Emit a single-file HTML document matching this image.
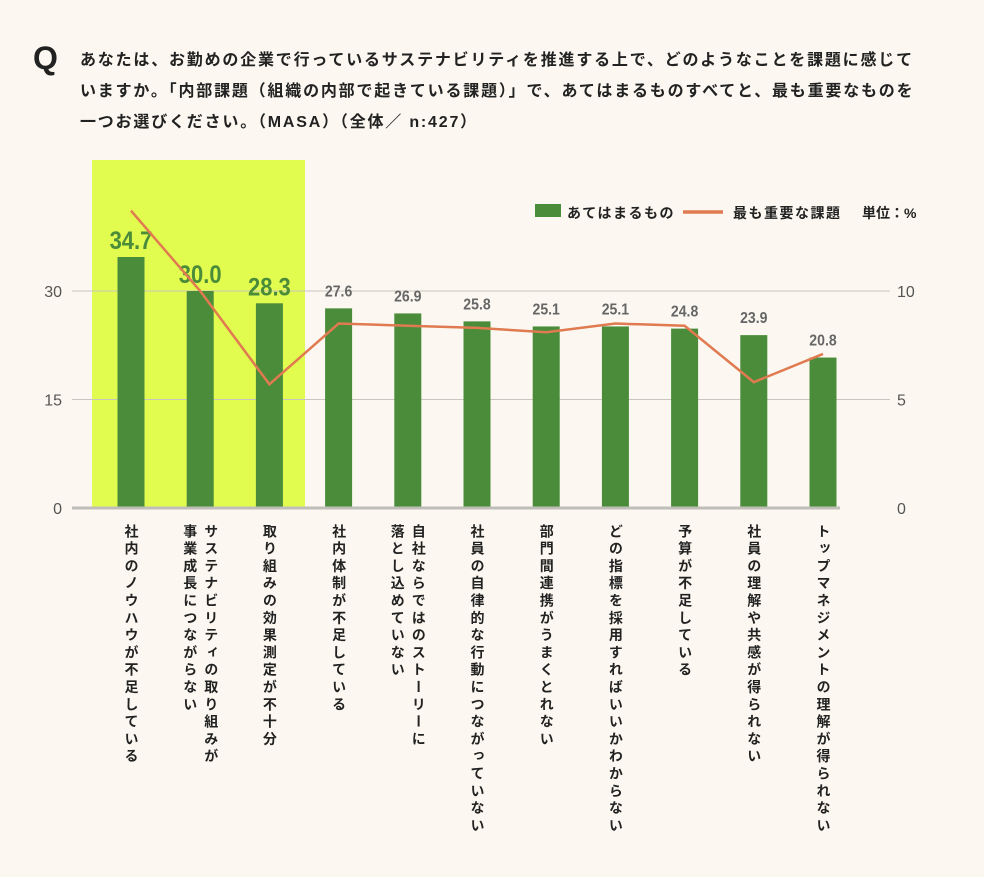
<!DOCTYPE html>
<html><head><meta charset="utf-8"><style>
body{margin:0;background:#fcf8f1;width:984px;height:877px;overflow:hidden;font-family:"Liberation Sans","Noto Sans CJK JP",sans-serif;}
.q{position:absolute;left:33px;top:40px;font-size:32px;font-weight:bold;color:#222;}
.qt{position:absolute;left:80px;top:45px;width:880px;font-size:16px;font-weight:bold;line-height:31px;color:#222;letter-spacing:1.8px;white-space:nowrap;}
.cat{position:absolute;top:524px;writing-mode:vertical-rl;font-size:14px;font-weight:bold;color:#222;line-height:21px;letter-spacing:3.3px;}
</style></head><body>
<div class="q">Q</div>
<div class="qt">あなたは、お勤めの企業で行っているサステナビリティを推進する上で、どのようなことを課題に感じて<br>いますか。「内部課題（組織の内部で起きている課題）」で、あてはまるものすべてと、最も重要なものを<br>一つお選びください。（MASA）（全体／ n:427）</div>
<svg id="chart" width="984" height="877" style="position:absolute;left:0;top:0"></svg>
<div id="labels"></div>
<script>
const categories=["社内のノウハウが不足している","サステナビリティの取り組みが|事業成長につながらない","取り組みの効果測定が不十分","社内体制が不足している","自社ならではのストーリーに|落とし込めていない","社員の自律的な行動につながっていない","部門間連携がうまくとれない","どの指標を採用すればいいかわからない","予算が不足している","社員の理解や共感が得られない","トップマネジメントの理解が得られない"];
const applies=[34.7,30.0,28.3,27.6,26.9,25.8,25.1,25.1,24.8,23.9,20.8];
const important=[13.7,10.0,5.7,8.5,8.4,8.3,8.1,8.5,8.4,5.8,7.1];
const leftTicks=[0,15,30];
const rightTicks=[0,5,10];
const NS="http://www.w3.org/2000/svg";
const svg=document.getElementById('chart');
const y0=508;
const yL=v=>y0-v*(217/30);
const yR=v=>y0-v*(217/10);
const xC=i=>131+i*69.2;
function mk(t,a){const e=document.createElementNS(NS,t);for(const k in a)e.setAttribute(k,a[k]);svg.appendChild(e);return e;}
let hl=mk('rect',{x:92,y:160,width:213,height:348,fill:'#e2fb4f'});


leftTicks.forEach((t,i)=>{
 if(t>0){let g=mk('line',{x1:72,x2:890,y1:yL(t),y2:yL(t),stroke:'#c8c6c0','stroke-width':1});}
 let tx=mk('text',{x:62,y:yL(t)+6,'text-anchor':'end','font-size':16,fill:'#555'});tx.textContent=t;
 
});
rightTicks.forEach(t=>{let tx=mk('text',{x:897,y:yR(t)+6,'font-size':16,fill:'#555'});tx.textContent=t;
 });
applies.forEach((v,i)=>{
 let b=mk('rect',{x:xC(i)-13.5,y:yL(v),width:27,height:y0-yL(v),fill:'#4a8c3a'});
 
 const big=i<3;
 let t=mk('text',{x:xC(i),y:yL(v)-(big?8:12),'text-anchor':'middle','font-size':big?25:16,'font-weight':'bold',fill:big?'#4a8c3a':'#666'});
 t.setAttribute('transform',`translate(${xC(i)},0) scale(0.88,1) translate(${-xC(i)},0)`);
 t.textContent=v.toFixed(1);
 
});
let base=mk('line',{x1:72,x2:840,y1:y0,y2:y0,stroke:'#c0beb8','stroke-width':3});

let ln=mk('polyline',{points:important.map((v,i)=>xC(i)+','+yR(v)).join(' '),fill:'none',stroke:'#e07a50','stroke-width':2.5});

let l1=mk('rect',{x:535,y:204,width:26,height:13,fill:'#4a8c3a'});
let lt1=mk('text',{x:567,y:218,'font-size':14,'font-weight':'bold',fill:'#222','letter-spacing':1.5});lt1.textContent='あてはまるもの';
let l2=mk('line',{x1:683,x2:723,y1:212,y2:212,stroke:'#e07a50','stroke-width':3.5});
let lt2=mk('text',{x:733,y:218,'font-size':14,'font-weight':'bold',fill:'#222','letter-spacing':1.5});lt2.textContent='最も重要な課題';
let u=mk('text',{x:862,y:218,'font-size':14,'font-weight':'bold',fill:'#222'});u.textContent='単位：%';
const lab=document.getElementById('labels');
categories.forEach((c,i)=>{
 const d=document.createElement('div');d.className='cat';
 
 
 const parts=c.split('|');
 d.innerHTML=parts.join('<br>');
 d.style.left=(xC(i)-parts.length*10.5)+'px';
 lab.appendChild(d);
});
</script>
</body></html>
